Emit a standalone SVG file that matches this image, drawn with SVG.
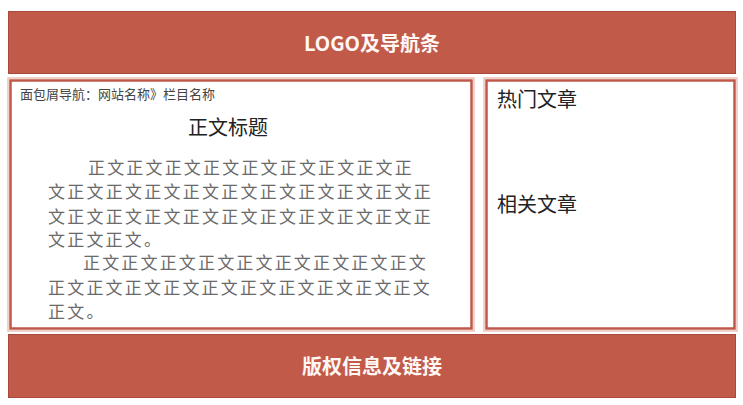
<svg xmlns="http://www.w3.org/2000/svg" width="743" height="405" viewBox="0 0 743 405">
<style>
.bar{fill:#C25A4A;stroke:#A9493B;stroke-width:1}
.box{fill:#FFFFFF;stroke:#C0584A;stroke-width:2.5}
.halo{fill:none;stroke:#EBC3BA;stroke-width:1.5}
.bt{font-family:"Noto Sans CJK SC","Liberation Sans",sans-serif;font-weight:bold;font-size:20px;fill:#FFF8F5;text-anchor:middle}
.crumb{font-family:"Noto Sans CJK SC",sans-serif;font-size:13px;fill:#444}
.h{font-family:"Noto Sans CJK SC",sans-serif;font-size:20px;fill:#222}
.body{font-family:"Noto Sans CJK SC",sans-serif;font-size:17px;letter-spacing:2.2px;fill:#6a6a6a}
</style>
<rect width="743" height="405" fill="#FFFFFF"/>
<g id="header">
<rect class="bar" x="8.5" y="11.5" width="727" height="62"/>
<text class="bt" x="372" y="51">LOGO及导航条</text>
</g>
<g id="main">
<rect class="halo" x="8" y="78" width="466" height="253"/>
<rect class="box" x="10.5" y="80.5" width="461" height="248"/>
<text class="crumb" x="20" y="99">面包屑导航：网站名称》栏目名称</text>
<text class="h" x="228" y="134.5" text-anchor="middle">正文标题</text>
<text class="body" x="88" y="173.5" textLength="326" lengthAdjust="spacing">正文正文正文正文正文正文正文正文正</text>
<text class="body" x="48" y="197.5" textLength="385" lengthAdjust="spacing">文正文正文正文正文正文正文正文正文正文正</text>
<text class="body" x="48" y="222.5" textLength="385" lengthAdjust="spacing">文正文正文正文正文正文正文正文正文正文正</text>
<text class="body" x="48" y="246">文正文正文。</text>
<text class="body" x="83" y="268.5" textLength="345" lengthAdjust="spacing">正文正文正文正文正文正文正文正文正文</text>
<text class="body" x="48" y="293.5" textLength="384" lengthAdjust="spacing">正文正文正文正文正文正文正文正文正文正文</text>
<text class="body" x="48" y="317.5">正文。</text>
</g>
<g id="sidebar">
<rect class="halo" x="484" y="78" width="253" height="253"/>
<rect class="box" x="486.5" y="80.5" width="248" height="248"/>
<text class="h" x="497" y="106.5">热门文章</text>
<text class="h" x="497" y="212">相关文章</text>
</g>
<g id="footer">
<rect class="bar" x="8.5" y="334.5" width="727" height="63"/>
<text class="bt" x="372" y="373.5">版权信息及链接</text>
</g>
<g id="connectors"/>
</svg>
